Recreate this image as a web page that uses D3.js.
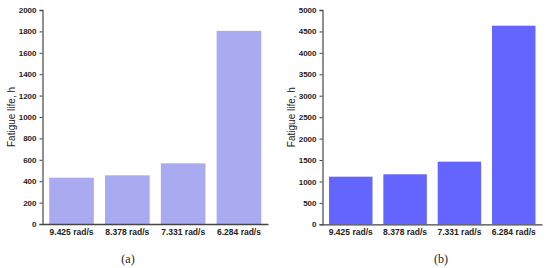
<!DOCTYPE html>
<html>
<head>
<meta charset="utf-8">
<script src="https://cdn.jsdelivr.net/npm/d3@7"></script>
<style>
  body { margin: 0; background: #fff; }
  svg { display: block; }
</style>
</head>
<body>
<div id="chart"></div>
<script>
// categories shared by both panels
var speeds = ["9.425 rad/s", "8.378 rad/s", "7.331 rad/s", "6.284 rad/s"];

// fatigue life values (hours)
var lifeA = [433, 455, 567, 1805];
var lifeB = [1111, 1167, 1461, 4634];

// y tick values
var ticksA = [0, 200, 400, 600, 800, 1000, 1200, 1400, 1600, 1800, 2000];
var ticksB = [0, 500, 1000, 1500, 2000, 2500, 3000, 3500, 4000, 4500, 5000];

var panelLabels = ["(a)", "(b)"];

var svg = d3.select("#chart").append("svg")
    .attr("width", 550)
    .attr("height", 268);

function drawPanel(opt) {
  var g = svg.append("g");

  var y = d3.scaleLinear()
      .domain([0, opt.max])
      .range([opt.bottom, opt.top]);

  var x = d3.scaleBand()
      .domain(speeds)
      .range([opt.left, opt.right])
      .paddingInner(0.2)
      .paddingOuter(0.12);

  //bars
  g.selectAll(".bar")
    .data(opt.values)
    .enter().append("rect")
    .attr("class", "bar")
    .attr("x", function(d, i) { return x(speeds[i]); })
    .attr("width", x.bandwidth())
    .attr("y", function(d) { return y(d); })
    .attr("height", function(d) { return opt.bottom - y(d); })
    .attr("fill", opt.color);

  //y axis
  var yAxis = g.append("g")
    .attr("transform", "translate(" + opt.left + ",0)")
    .call(d3.axisLeft(y).tickValues(opt.ticks).tickSize(3).tickPadding(3).tickFormat(d3.format("d")));
  yAxis.select(".domain").attr("stroke", "#555").attr("stroke-width", 1.3);
  yAxis.selectAll(".tick line").attr("stroke", "#444");
  yAxis.selectAll("text")
    .attr("font-family", "Liberation Sans, Arial, sans-serif")
    .attr("font-size", 8)
    .attr("font-weight", "bold")
    .attr("fill", "#222");

  //x axis
  var xAxis = g.append("g")
    .attr("transform", "translate(0," + opt.bottom + ")")
    .call(d3.axisBottom(x).tickSize(0).tickPadding(5));
  xAxis.select(".domain").attr("stroke", "#444").attr("stroke-width", 1.3);
  xAxis.selectAll("text")
    .attr("font-family", "Liberation Sans, Arial, sans-serif")
    .attr("font-size", 8.5)
    .attr("font-weight", "bold")
    .attr("fill", "#222");

  //y label
  g.append("text")
    .attr("transform", "translate(" + (opt.left - 28) + "," + ((opt.top + opt.bottom) / 2) + ") rotate(-90)")
    .attr("text-anchor", "middle")
    .attr("font-family", "Liberation Sans, Arial, sans-serif")
    .attr("font-size", 10)
    .attr("fill", "#222")
    .text("Fatigue life, h");

  //panel label
  g.append("text")
    .attr("x", opt.labelX)
    .attr("y", 263)
    .attr("text-anchor", "middle")
    .attr("font-family", "Liberation Serif, Times New Roman, serif")
    .attr("font-size", 12)
    .attr("fill", "#222")
    .text(opt.label);
}

drawPanel({
  values: lifeA, ticks: ticksA, max: 2000,
  left: 42.5, right: 268, top: 10, bottom: 224,
  color: "#aaaaf0", label: panelLabels[0], labelX: 128
});

drawPanel({
  values: lifeB, ticks: ticksB, max: 5000,
  left: 322.5, right: 542, top: 10, bottom: 224.3,
  color: "#6464ff", label: panelLabels[1], labelX: 441
});
</script>
</body>
</html>
